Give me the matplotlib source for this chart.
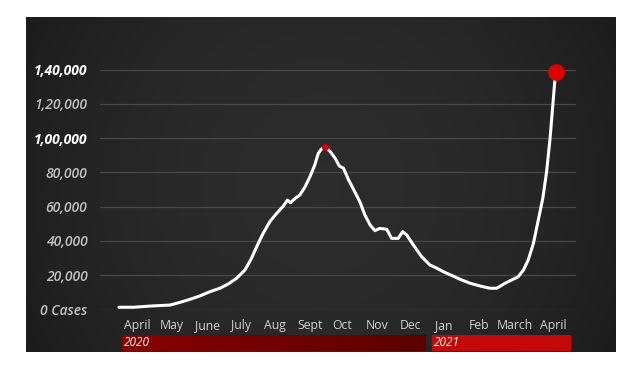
import numpy as np
import matplotlib
matplotlib.use("Agg")
import matplotlib.pyplot as plt
from matplotlib.patches import Rectangle
from matplotlib.colors import LinearSegmentedColormap

# ---- data (x in month-label units: 0 = April 2020 label, 12 = April 2021 label) ----
x_pos = [-0.54, -0.12, 0.36, 0.94, 1.23, 1.51, 1.80, 2.09, 2.38, 2.62, 2.86,
         3.10, 3.27, 3.45, 3.63, 3.83, 4.02, 4.21, 4.33, 4.42, 4.55, 4.69,
         4.84, 4.98, 5.12, 5.22, 5.30, 5.42, 5.57, 5.71, 5.83, 5.95, 6.10,
         6.28, 6.43, 6.57, 6.72, 6.86, 7.00, 7.20, 7.34, 7.53, 7.66, 7.78,
         7.97, 8.21, 8.45, 8.60, 8.84, 9.12, 9.32, 9.61, 9.90, 10.18, 10.38,
         10.62, 10.81, 11.00, 11.15, 11.29, 11.44, 11.58, 11.71, 11.82, 11.92,
         12.00, 12.06, 12.10]
cases = [1300, 1300, 2000, 2600, 4200, 5900, 7900, 10400, 12400, 14900, 18200,
         23000, 29000, 37000, 44500, 51500, 56100, 60300, 63800, 62300, 64800, 66800,
         71600, 77400, 84300, 91000, 93300, 94900, 92000, 88200, 83700, 82400, 75500,
         68500, 62500, 55100, 49300, 46000, 47300, 46800, 41500, 41500, 45400, 43400,
         37600, 30800, 25900, 24600, 22000, 19500, 17600, 15300, 13700, 12400, 12400,
         15300, 17200, 19100, 23000, 28900, 38600, 52200, 64800, 80300, 99800,
         119200, 133800, 138500]
peak_x = 5.42
peak_y = 94900

month_labels = ["April", "May", "June", "July", "Aug", "Sept", "Oct", "Nov", "Dec",
                "Jan", "Feb", "March", "April"]
month_pos = [0, 0.99, 2.02, 2.98, 3.96, 4.99, 5.90, 6.91, 7.88, 8.85, 9.86, 10.91, 12.0]

y_ticks = [0, 20000, 40000, 60000, 80000, 100000, 120000, 140000]
y_tick_labels = ["0 Cases", "20,000", "40,000", "60,000", "80,000",
                 "1,00,000", "1,20,000", "1,40,000"]
y_bold = [False, False, False, False, False, True, False, True]

years = ["2020", "2021"]
year_start = [-0.45, 8.51]
year_end = [8.31, 12.5]

# ---- figure ----
W, H = 640, 372
fig = plt.figure(figsize=(6.4, 3.72), dpi=100)
fig.patch.set_facecolor("white")

# dark background panel
bg = fig.add_axes([26 / W, (H - 352) / H, 590 / W, 335 / H])
xx = np.linspace(-1, 1, 400)
yy = np.linspace(-1, 1, 200)
XX, YY = np.meshgrid(xx, yy)
shade = 1 - 0.35 * XX ** 2 - 0.1 * YY ** 2
bg_cmap = LinearSegmentedColormap.from_list("bg", ["#1a1a1a", "#2c2c2c"])
bg.imshow(shade, cmap=bg_cmap, aspect="auto", extent=[0, 1, 0, 1], vmin=0.5, vmax=1)
bg.set_axis_off()

# main plot axes
ax = fig.add_axes([100 / W, (H - 309.5) / H, 476 / W, 240 / H])
ax.set_facecolor("none")
ax.set_xlim(-1.087, 12.67)
ax.set_ylim(0, 140000)
for s in ax.spines.values():
    s.set_visible(False)
ax.set_yticks(y_ticks)
ax.set_yticklabels(y_tick_labels)
ax.grid(axis="y", color="#484848", lw=0.9)
ax.set_axisbelow(True)
ax.tick_params(axis="y", length=0, pad=9)
for lab, b in zip(ax.get_yticklabels(), y_bold):
    lab.set_fontfamily("Open Sans")
    lab.set_fontstyle("italic")
    lab.set_fontsize(10)
    lab.set_fontweight("bold" if b else "semibold")
    lab.set_color("white" if b else "#c2c2c2")

ax.set_xticks(month_pos)
ax.set_xticklabels(month_labels)
ax.tick_params(axis="x", length=0, pad=7)
for lab in ax.get_xticklabels():
    lab.set_fontfamily("Open Sans")
    lab.set_fontsize(8.8)
    lab.set_color("#d2d2d2")

ax.plot(x_pos, cases, color="white", lw=2.2, solid_joinstyle="round",
        solid_capstyle="round", zorder=3)
ax.plot([peak_x], [peak_y], "o", color="#cc0000", ms=4, zorder=4)
ax.plot([x_pos[-1]], [cases[-1]], "o", color="#dd0000", ms=11,
        clip_on=False, zorder=5)

# year bars
yax = fig.add_axes([100 / W, (H - 351) / H, 476 / W, 16 / H])
yax.set_xlim(ax.get_xlim())
yax.set_ylim(0, 1)
yax.set_axis_off()
grad = LinearSegmentedColormap.from_list("g2020", ["#880000", "#5c0000"])
yax.imshow(np.linspace(0, 1, 256)[None, :], cmap=grad, aspect="auto",
           extent=[year_start[0], year_end[0], 0, 1])
yax.add_patch(Rectangle((year_start[1], 0), year_end[1] - year_start[1], 1,
                        color="#c20808"))
yax.set_xlim(ax.get_xlim())
for yr, xs in zip(years, year_start):
    yax.text(xs + 0.06, 0.5, yr, color="white", fontsize=8.5, fontstyle="italic",
             fontfamily="Open Sans", ha="left", va="center")

fig.savefig("out.png", dpi=100, facecolor="white")
